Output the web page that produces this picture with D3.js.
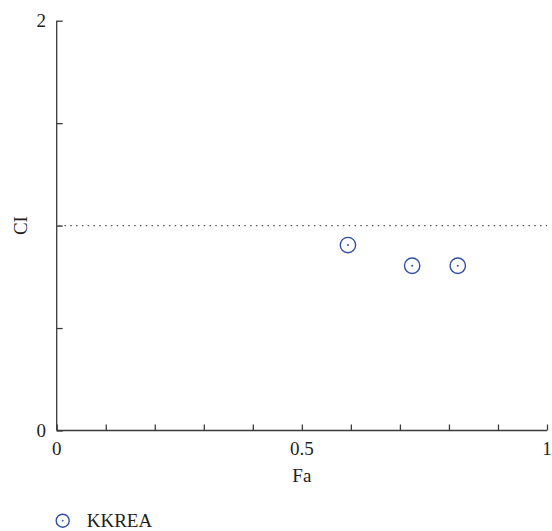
<!DOCTYPE html>
<html>
<head>
<meta charset="utf-8">
<script src="https://cdn.jsdelivr.net/npm/d3@7"></script>
<style>
    body { margin: 0; background: #fff; }
</style>
</head>
<body>
<svg width="552" height="531"></svg>
<script>
// data
var seriesName = "KKREA";
var faValues = [0.594, 0.725, 0.818];
var ciValues = [0.905, 0.804, 0.804];
var refLine = [1];
var xTickLabels = [0, 0.5, 1];
var yTickLabels = [0, 2];

var serif = "'Liberation Serif', 'Times New Roman', 'DejaVu Serif', serif";
var ink = "#231f20";
var color = "#3050a8";

var svg = d3.select("svg");

var x = d3.scaleLinear().domain([0, 1]).range([56.7, 547]);
var y = d3.scaleLinear().domain([0, 2]).range([430.5, 20.7]);

// axes with inward ticks
svg.append("g")
    .attr("transform", "translate(0," + y(0) + ")")
    .call(d3.axisBottom(x).tickValues(d3.range(0, 1.0001, 0.1)).tickSize(-6).tickFormat(""))
    .call(g => g.select(".domain").attr("d", "M" + x(0) + ",0H" + x(1)));

svg.append("g")
    .attr("transform", "translate(" + x(0) + ",0)")
    .call(d3.axisLeft(y).tickValues([0, 0.5, 1, 1.5, 2]).tickSize(-6).tickFormat(""))
    .call(g => g.select(".domain").attr("d", "M0," + y(0) + "V" + y(2)));

svg.selectAll(".domain, .tick line").attr("stroke", "#3a3a3a").attr("stroke-width", 1.3);

function label(sel) {
    return sel.style("font-family", serif).style("font-size", "19px").attr("fill", ink);
}

// tick labels
svg.append("g").selectAll("text")
    .data(xTickLabels)
    .enter()
    .append("text")
    .attr("x", d => x(d))
    .attr("y", 455)
    .attr("text-anchor", "middle")
    .call(label)
    .text(d => d);

svg.append("g").selectAll("text")
    .data(yTickLabels)
    .enter()
    .append("text")
    .attr("x", 46)
    .attr("y", d => y(d) + 6.5)
    .attr("text-anchor", "end")
    .call(label)
    .text(d => d);

// axis titles
svg.append("text")
    .attr("x", x(0.5))
    .attr("y", 482)
    .attr("text-anchor", "middle")
    .call(label)
    .text("Fa");

svg.append("text")
    .attr("transform", "translate(26.5," + y(1) + ") rotate(-90)")
    .attr("text-anchor", "middle")
    .call(label)
    .text("CI");

// dotted reference line
svg.selectAll(".ref")
    .data(refLine)
    .enter()
    .append("line")
    .attr("x1", x(0) + 2)
    .attr("x2", x(1))
    .attr("y1", d => y(d))
    .attr("y2", d => y(d))
    .attr("stroke", "#555")
    .attr("stroke-width", 1.3)
    .attr("stroke-dasharray", "1.5,4.3");

// points
var pts = faValues.map((v, i) => ({ fa: v, ci: ciValues[i] }));
var g = svg.append("g").selectAll("g")
    .data(pts)
    .enter()
    .append("g")
    .attr("transform", d => "translate(" + x(d.fa) + "," + y(d.ci) + ")");
g.append("circle").attr("r", 7.7).attr("fill", "none").attr("stroke", color).attr("stroke-width", 1.4);
g.append("circle").attr("r", 1).attr("fill", color);

// legend
var lg = svg.append("g").attr("transform", "translate(62.7,520.7)");
lg.append("circle").attr("r", 6.5).attr("fill", "none").attr("stroke", color).attr("stroke-width", 1.4);
lg.append("circle").attr("r", 0.9).attr("fill", color);
lg.append("text")
    .attr("x", 24)
    .attr("y", 6.5)
    .call(label)
    .text(seriesName);
</script>
</body>
</html>
